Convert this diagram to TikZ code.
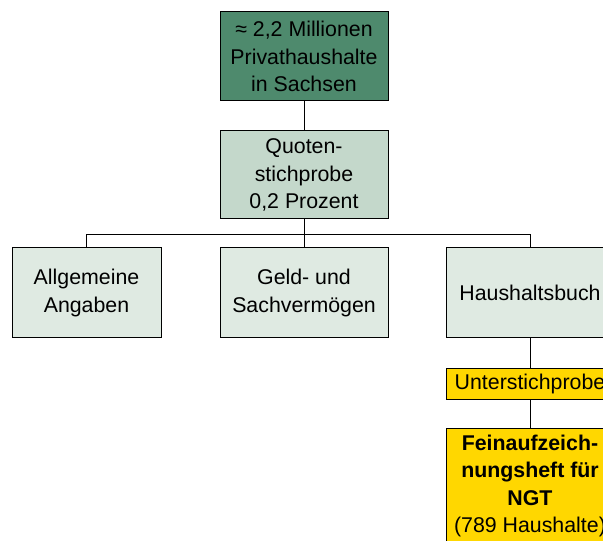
\documentclass[tikz,border=0pt]{standalone}
\usepackage{fontspec}
\setmainfont{Liberation Sans}
\definecolor{topgreen}{HTML}{4E8A6D}
\definecolor{midgreen}{HTML}{C4D8CB}
\definecolor{lightgreen}{HTML}{DFEAE2}
\definecolor{gelb}{HTML}{FFD700}
\begin{document}
\begin{tikzpicture}[x=0.75pt,y=-0.75pt,
  box/.style={draw=black,line width=0.75pt,rectangle,align=center,inner sep=0pt,
    font=\fontsize{16}{20.6}\selectfont,text=black},
  conn/.style={draw=black,line width=0.75pt}]
\useasboundingbox (0,0) rectangle (603,541);
\clip (0,0) rectangle (603,541);
\node[box,fill=topgreen,minimum width=126pt,minimum height=66.75pt] (top) at (304,56.5)
  {≈ 2,2 Millionen\\Privathaushalte\\in Sachsen};
\node[box,fill=midgreen,minimum width=126pt,minimum height=66pt] (quote) at (304,175)
  {Quoten-\\stichprobe\\0,2 Prozent};
\node[box,fill=lightgreen,minimum width=111.75pt,minimum height=67.5pt] (allg) at (86.5,293)
  {Allgemeine\\Angaben};
\node[box,fill=lightgreen,minimum width=126pt,minimum height=67.5pt] (geld) at (304,293)
  {Geld- und\\Sachvermögen};
\node[box,fill=lightgreen,minimum width=125pt,minimum height=67.5pt] (hb) at (530,293)
  {Haushaltsbuch};
\node[box,fill=gelb,minimum width=126pt,minimum height=22.5pt] (unter) at (530,384)
  {Unterstichprobe};
\node[box,fill=gelb,minimum width=126pt,minimum height=87pt] (fein) at (530,486)
  {\textbf{Feinaufzeich-}\\\textbf{nungsheft für}\\\textbf{NGT}\\(789 Haushalte)};
\coordinate (split) at (304,235);
\draw[conn] (top.south) -- (quote.north);
\draw[conn] (quote.south) -- (split);
\draw[conn] (split) -| (allg.north);
\draw[conn] (split) -- (geld.north);
\draw[conn] (split) -| (hb.north);
\draw[conn] (hb.south) -- (unter.north);
\draw[conn] (unter.south) -- (fein.north);
\end{tikzpicture}
\end{document}
